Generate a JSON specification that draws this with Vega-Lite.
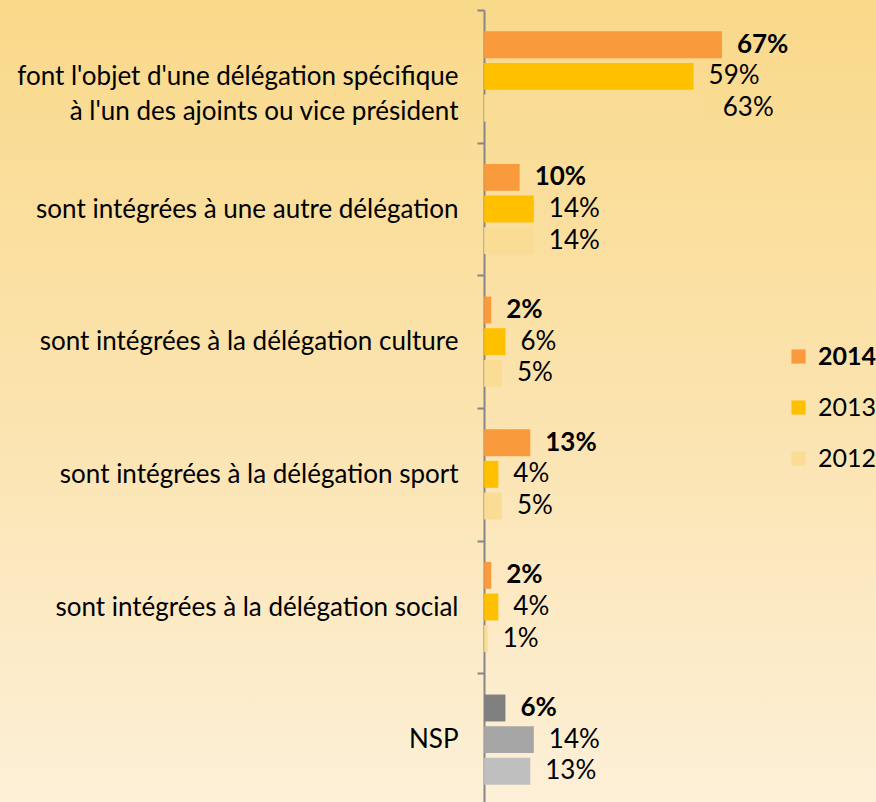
{
  "$schema": "https://vega.github.io/schema/vega-lite/v6.json",
  "width": 876,
  "height": 802,
  "autosize": "none",
  "padding": 0,
  "background": "#F9D98B",
  "config": {
    "view": {
      "stroke": null,
      "fill": {"gradient": "linear", "x1": 0, "y1": 0, "x2": 0, "y2": 1,
        "stops": [{"offset": 0, "color": "#F9D98A"}, {"offset": 0.5, "color": "#FBE3AE"}, {"offset": 1, "color": "#FDF0D8"}]}
    },
    "font": "Lato"
  },
  "data": {
    "values": [
      {"category": "font l'objet d'une délégation spécifique à l'un des ajoints ou vice président", "year": "2014", "serie": "2014", "value": 0.67},
      {"category": "font l'objet d'une délégation spécifique à l'un des ajoints ou vice président", "year": "2013", "serie": "2013", "value": 0.59},
      {"category": "font l'objet d'une délégation spécifique à l'un des ajoints ou vice président", "year": "2012", "serie": "2012", "value": 0.63},
      {"category": "sont intégrées à une autre délégation", "year": "2014", "serie": "2014", "value": 0.10},
      {"category": "sont intégrées à une autre délégation", "year": "2013", "serie": "2013", "value": 0.14},
      {"category": "sont intégrées à une autre délégation", "year": "2012", "serie": "2012", "value": 0.14},
      {"category": "sont intégrées à la délégation culture", "year": "2014", "serie": "2014", "value": 0.02},
      {"category": "sont intégrées à la délégation culture", "year": "2013", "serie": "2013", "value": 0.06},
      {"category": "sont intégrées à la délégation culture", "year": "2012", "serie": "2012", "value": 0.05},
      {"category": "sont intégrées à la délégation sport", "year": "2014", "serie": "2014", "value": 0.13},
      {"category": "sont intégrées à la délégation sport", "year": "2013", "serie": "2013", "value": 0.04},
      {"category": "sont intégrées à la délégation sport", "year": "2012", "serie": "2012", "value": 0.05},
      {"category": "sont intégrées à la délégation social", "year": "2014", "serie": "2014", "value": 0.02},
      {"category": "sont intégrées à la délégation social", "year": "2013", "serie": "2013", "value": 0.04},
      {"category": "sont intégrées à la délégation social", "year": "2012", "serie": "2012", "value": 0.01},
      {"category": "NSP", "year": "2014", "serie": "NSP 2014", "value": 0.06},
      {"category": "NSP", "year": "2013", "serie": "NSP 2013", "value": 0.14},
      {"category": "NSP", "year": "2012", "serie": "NSP 2012", "value": 0.13}
    ]
  },
  "encoding": {
    "y": {
      "field": "category", "type": "nominal",
      "sort": ["font l'objet d'une délégation spécifique à l'un des ajoints ou vice président", "sont intégrées à une autre délégation", "sont intégrées à la délégation culture", "sont intégrées à la délégation sport", "sont intégrées à la délégation social", "NSP"],
      "scale": {"range": [10, 806], "paddingInner": 0, "paddingOuter": 0},
      "axis": {
        "title": null, "orient": "left", "offset": -484,
        "domainColor": "#868686", "domainWidth": 2,
        "tickColor": "#868686", "tickWidth": 2, "tickSize": 7, "tickBand": "extent",
        "labelFont": "Lato", "labelFontSize": 26, "labelColor": "#000000", "labelPadding": 19, "labelLimit": 1000,
        "labelLineHeight": 35, "labelBaseline": "middle",
        "labelExpr": "length(datum.label) > 60 ? [substring(datum.label, 0, 40), substring(datum.label, 41)] : datum.label",
        "encoding": {"labels": {"update": {
          "align": {"signal": "indexof(datum.label, 'objet') >= 0 ? 'center' : 'right'"},
          "dx": {"signal": "indexof(datum.label, 'objet') >= 0 ? -223 : 0"},
          "y": {"scale": "y", "field": "value", "band": 0.5, "offset": {"signal": "indexof(datum.label, 'objet') >= 0 ? -16 : 0"}}
        }}}
      }
    },
    "yOffset": {"field": "year", "type": "nominal", "sort": ["2014", "2013", "2012"], "scale": {"paddingInner": 0.15, "paddingOuter": 0.67}},
    "x": {"field": "value", "type": "quantitative", "scale": {"domain": [-1.364, 1.104], "nice": false, "zero": false}, "axis": null}
  },
  "layer": [
    {
      "mark": {"type": "bar"},
      "encoding": {
        "x2": {"datum": 0},
        "color": {
          "field": "serie", "type": "nominal",
          "scale": {"domain": ["2014", "2013", "2012", "NSP 2014", "NSP 2013", "NSP 2012"], "range": ["#F99A3C", "#FFC000", "#FADC95", "#808080", "#A6A6A6", "#BFBFBF"]},
          "legend": {
            "values": ["2014", "2013", "2012"], "title": null, "orient": "none", "legendX": 786, "legendY": 344,
            "symbolType": "square", "symbolSize": 200, "symbolStrokeWidth": 0, "symbolOpacity": 1,
            "labelFont": "Lato", "labelFontSize": 25, "labelColor": "#000000", "labelOffset": 7, "rowPadding": 25,
            "encode": {"labels": {"update": {"fontWeight": {"signal": "datum.value == '2014' ? 'bold' : 'normal'"}}}}
          }
        }
      }
    },
    {
      "transform": [{"filter": "datum.year == '2014'"}],
      "mark": {"type": "text", "align": "left", "baseline": "middle", "dx": 15, "font": "Lato", "fontSize": 26, "fontWeight": "bold", "color": "#000000"},
      "encoding": {"text": {"field": "value", "type": "quantitative", "format": ".0%"}}
    },
    {
      "transform": [{"filter": "datum.year != '2014'"}],
      "mark": {"type": "text", "align": "left", "baseline": "middle", "dx": 15, "font": "Lato", "fontSize": 26, "color": "#000000"},
      "encoding": {"text": {"field": "value", "type": "quantitative", "format": ".0%"}}
    }
  ]
}
